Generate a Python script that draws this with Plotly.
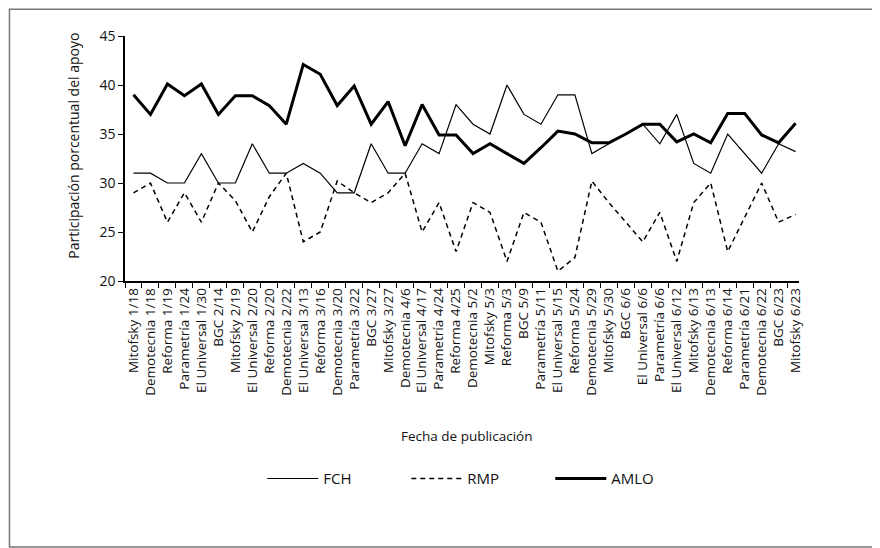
import plotly.graph_objects as go

categories = ["Mitofsky 1/18", "Demotecnia 1/18", "Reforma 1/19", "Parametría 1/24", "El Universal 1/30",
              "BGC 2/14", "Mitofsky 2/19", "El Universal 2/20", "Reforma 2/20", "Demotecnia 2/22",
              "El Universal 3/13", "Reforma 3/16", "Demotecnia 3/20", "Parametría 3/22", "BGC 3/27",
              "Mitofsky 3/27", "Demotecnia 4/6", "El Universal 4/17", "Parametría 4/24", "Reforma 4/25",
              "Demotecnia 5/2", "Mitofsky 5/3", "Reforma 5/3", "BGC 5/9", "Parametría 5/11",
              "El Universal 5/15", "Reforma 5/24", "Demotecnia 5/29", "Mitofsky 5/30", "BGC 6/6",
              "El Universal 6/6", "Parametría 6/6", "El Universal 6/12", "Mitofsky 6/13", "Demotecnia 6/13",
              "Reforma 6/14", "Parametría 6/21", "Demotecnia 6/22", "BGC 6/23", "Mitofsky 6/23"]

fch = [31, 31, 30, 30, 33, 30, 30, 34, 31, 31,
       32, 31, 29, 29, 34, 31, 31, 34, 33, 38,
       36, 35, 40, 37, 36, 39, 39, 33, 34, 35,
       36, 34, 37, 32, 31, 35, 33, 31, 34, 33.2]

rmp = [29, 30, 26, 29, 26, 30, 28.2, 25, 28.6, 31,
       24, 25, 30.2, 29, 28, 29, 31, 25, 28, 23,
       28, 27, 22, 27, 26, 21, 22.4, 30.2, 28, 26,
       24, 27, 22, 28, 30, 23, 26.5, 30, 26, 26.8]

amlo = [39, 37, 40.1, 38.9, 40.1, 37, 38.9, 38.9, 37.9, 36,
        42.1, 41.1, 37.9, 39.9, 36, 38.3, 33.8, 38, 34.9, 34.9,
        33, 34, 33, 32, 33.6, 35.3, 35, 34.1, 34.1, 35,
        36, 36, 34.2, 35, 34.1, 37.1, 37.1, 34.9, 34.1, 36.1]

yticks = [20, 25, 30, 35, 40, 45]

FONT = "Open Sans"
TXT = "#111111"

fig = go.Figure()
fig.add_trace(go.Scatter(x=categories, y=fch, name="FCH", mode="lines",
                         line=dict(color="black", width=1.2)))
fig.add_trace(go.Scatter(x=categories, y=rmp, name="RMP", mode="lines",
                         line=dict(color="black", width=1.5, dash="5px,4px")))
fig.add_trace(go.Scatter(x=categories, y=amlo, name="AMLO", mode="lines",
                         line=dict(color="black", width=3)))

# page body adds an 8px offset; targets below are given in window pixels
OFF = 8
W, H = 880, 548
L, T = 124.5 - OFF, 35.7 - OFF
B = H - (281 - OFF)
R = W - (799.5 - OFF)
pw = W - L - R
ph = H - T - B

def px_x(x):
    return (x - OFF - L) / pw

def px_y(y):
    return (H - B - (y - OFF)) / ph

fig.update_layout(
    width=W, height=H,
    margin=dict(l=L, r=R, t=T, b=B, pad=0),
    paper_bgcolor="white", plot_bgcolor="white",
    font=dict(family=FONT, color=TXT, size=13),
    showlegend=True,
    legend=dict(orientation="h", x=px_x(262), xanchor="left", y=px_y(479), yanchor="middle",
                font=dict(family=FONT, size=15, color=TXT),
                entrywidth=78, entrywidthmode="pixels", itemwidth=51,
                bgcolor="rgba(0,0,0,0)"),
    xaxis=dict(type="category", range=[-0.5, 39.2], showgrid=False, showline=True,
               linecolor="black", linewidth=1.5, ticks="outside", ticklen=5, tickcolor="black",
               tickwidth=1, tickson="boundaries", tickangle=-90, tickmode="linear", tick0=0, dtick=1,
               tickfont=dict(family=FONT, size=13.5, color=TXT), zeroline=False),
    yaxis=dict(range=[20, 45], tickvals=yticks, showgrid=False, showline=True,
               linecolor="black", linewidth=1.5, ticks="outside", ticklen=5, tickcolor="black",
               tickwidth=1, tickfont=dict(family=FONT, size=14, color=TXT), zeroline=False),
    annotations=[
        dict(text="Fecha de publicación", xref="paper", yref="paper", x=px_x(467), y=px_y(436),
             xanchor="center", yanchor="middle", showarrow=False,
             font=dict(family=FONT, size=13.5, color=TXT)),
        dict(text="Participación porcentual del apoyo", xref="paper", yref="paper",
             x=px_x(73), y=px_y(146), xanchor="center", yanchor="middle", textangle=-90,
             showarrow=False, font=dict(family=FONT, size=14, color=TXT)),
    ],
    shapes=[
        dict(type="rect", xref="paper", yref="paper", x0=px_x(8.8), x1=px_x(895),
             y0=px_y(547.3), y1=px_y(8.8), line=dict(color="#777777", width=1.5), layer="below"),
    ],
)

fig.write_html("out.html")
